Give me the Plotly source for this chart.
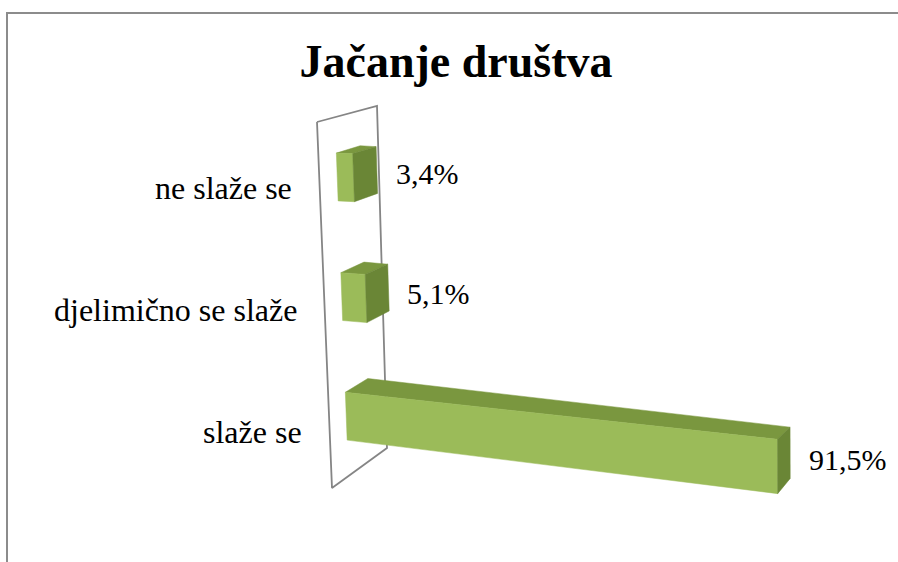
import plotly.graph_objects as go

# ---- data ----
categories = ["slaže se", "djelimično se slaže", "ne slaže se"]
values = [0.915, 0.051, 0.034]
value_labels = ["91,5%", "5,1%", "3,4%"]
title_text = "Jačanje društva"

W, H = 898, 562

# ---- 3D scene frame (screen projection of unit box: X=value, Y=category axis, Z=depth) ----
SCENE = {
    (0, 1, 0): (317, 122), (0, 0, 0): (332, 488),
    (0, 1, 1): (377, 106), (0, 0, 1): (387, 448),
    (1, 1, 0): (809, 123), (1, 0, 0): (809, 553),
    (1, 1, 1): (838, 139), (1, 0, 1): (838, 509),
}
AXIS_MAX = 1.0
N = len(categories)
BAR_FRAC = 0.4      # bar thickness in a category band
Z0, Z1 = 0.3, 0.7  # bar depth span


def proj(X, Y, Z):
    sx = sy = 0.0
    for (a, b, c), (px, py) in SCENE.items():
        w = (X if a else 1 - X) * (Y if b else 1 - Y) * (Z if c else 1 - Z)
        sx += w * px
        sy += w * py
    return sx, sy


def poly(pts):
    xs = [p[0] for p in pts] + [pts[0][0]]
    ys = [p[1] for p in pts] + [pts[0][1]]
    return xs, ys


fig = go.Figure()

# back wall (value = 0 plane)
wx, wy = poly([proj(0, 1, 0), proj(0, 1, 1), proj(0, 0, 1), proj(0, 0, 0)])
fig.add_trace(go.Scatter(x=wx, y=wy, mode="lines", line=dict(color="#858585", width=1.8),
                         hoverinfo="skip", showlegend=False))

FRONT = "#9bbb59"
TOP = "#7a973f"
END = "#6a8636"
SERIF = "Times New Roman, Liberation Serif, serif"

annotations = []
for i, (cat, v, lab) in enumerate(zip(categories, values, value_labels)):
    X = v / AXIS_MAX
    yc = (i + 0.5) / N
    h = BAR_FRAC / N / 2
    yb, yt = yc - h, yc + h
    faces = [
        ([proj(0, yt, Z0), proj(0, yt, Z1), proj(X, yt, Z1), proj(X, yt, Z0)], TOP),
        ([proj(0, yb, Z0), proj(0, yt, Z0), proj(X, yt, Z0), proj(X, yb, Z0)], FRONT),
        ([proj(X, yb, Z0), proj(X, yt, Z0), proj(X, yt, Z1), proj(X, yb, Z1)], END),
    ]
    for pts, col in faces:
        px_, py_ = poly(pts)
        fig.add_trace(go.Scatter(x=px_, y=py_, mode="lines", fill="toself", fillcolor=col,
                                 line=dict(color=col, width=0.5), hoverinfo="skip",
                                 showlegend=False))
    # category label
    lx, ly = proj(0, yc, 0)
    annotations.append(dict(x=lx - 26, y=ly + 5, text=cat, xref="x", yref="y",
                            xanchor="right", yanchor="middle", showarrow=False,
                            font=dict(family=SERIF, size=32, color="#000")))
    # value label
    ex, _ = proj(X, yc, Z1)
    _, ey = proj(X, yc, 0.5)
    annotations.append(dict(x=ex + 17, y=ey, text=lab, xref="x", yref="y",
                            xanchor="left", yanchor="middle", showarrow=False,
                            font=dict(family=SERIF, size=30, color="#000")))

fig.update_layout(
    width=W, height=H,
    margin=dict(l=0, r=0, t=0, b=0),
    paper_bgcolor="white", plot_bgcolor="white",
    xaxis=dict(range=[0, W], visible=False, fixedrange=True),
    yaxis=dict(range=[H, 0], visible=False, fixedrange=True),
    title=dict(text=title_text, x=456 / W, y=1 - 61 / H, xanchor="center", yanchor="middle",
               font=dict(family=SERIF, size=46, color="#000", weight="bold")),
    annotations=annotations,
    shapes=[dict(type="rect", xref="x", yref="y", x0=7, y0=13, x1=W + 20, y1=H + 20,
                 line=dict(color="#8c8c8c", width=2), layer="below")],
    showlegend=False,
)

fig.write_html("out.html", config={"staticPlot": True},
               post_script="document.body.style.margin='0';document.body.style.overflow='hidden';")
